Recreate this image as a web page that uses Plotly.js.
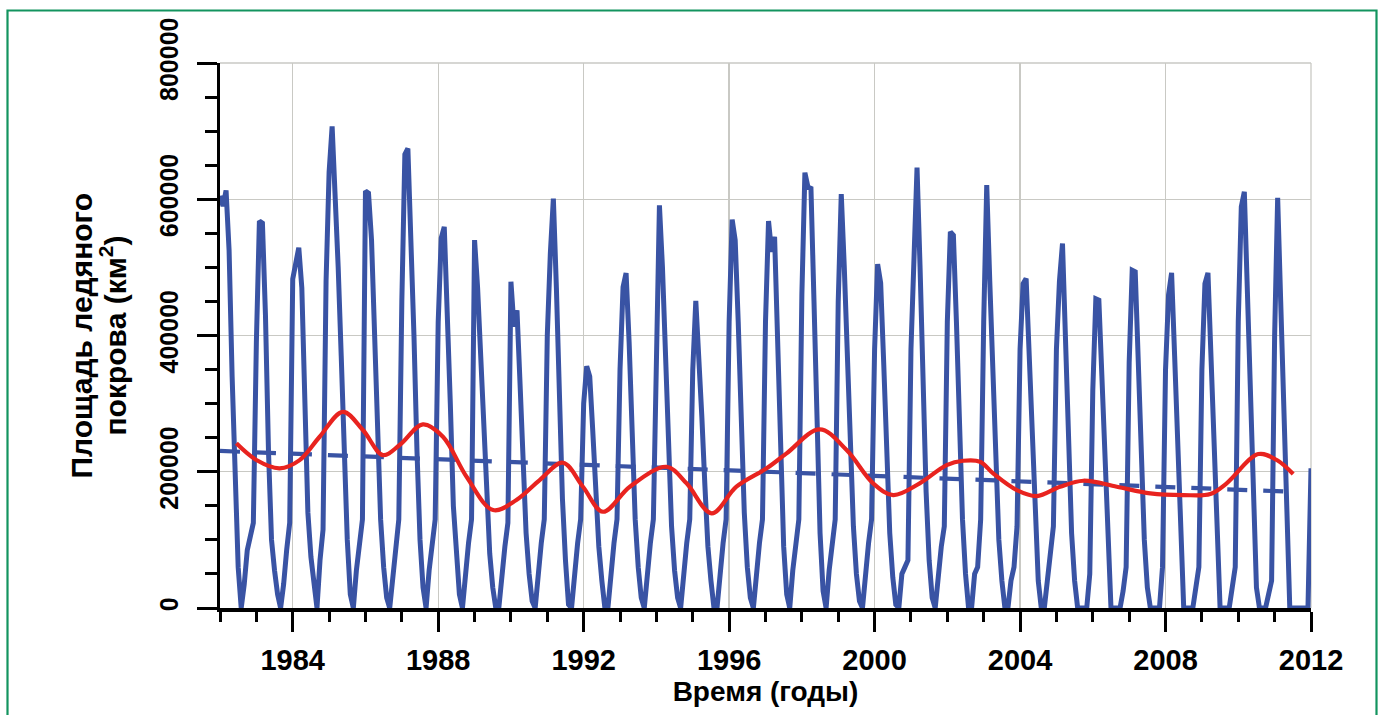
<!DOCTYPE html>
<html>
<head>
<meta charset="utf-8">
<script src="https://cdn.plot.ly/plotly-3.0.1.min.js"></script>
<style>
  html, body { margin: 0; padding: 0; background: #ffffff; }
  #chart { width: 1383px; height: 715px; }
</style>
</head>
<body>
<div id="chart"></div>
<script>
// Monthly ice-cover area, km², one row per year (Jan..Dec), starting January 1982
const firstYear = 1982;
const area1982_1989 = [
  605000, 590000, 613000, 525000, 340000, 170000, 60000, 0, 35000, 85000, 105000, 125000,
  390000, 568000, 565000, 430000, 230000, 100000, 55000, 20000, 0, 35000, 85000, 125000,
  483000, 505000, 529000, 470000, 320000, 140000, 75000, 30000, 0, 70000, 115000, 480000,
  640000, 707000, 610000, 500000, 370000, 220000, 100000, 20000, 0, 55000, 95000, 130000,
  612000, 609000, 540000, 400000, 260000, 130000, 60000, 15000, 0, 50000, 90000, 130000,
  450000, 666000, 674500, 560000, 400000, 230000, 100000, 30000, 0, 55000, 95000, 130000,
  420000, 543000, 559500, 450000, 300000, 150000, 70000, 20000, 0, 55000, 95000, 130000,
  540000, 470000, 380000, 280000, 170000, 80000, 30000, 0, 0, 55000, 90000, 125000
];
const area1990_1999 = [
  479000, 413000, 437000, 330000, 220000, 110000, 50000, 10000, 0, 55000, 95000, 130000,
  400000, 520000, 601000, 470000, 310000, 160000, 70000, 5000, 0, 55000, 95000, 130000,
  300000, 355000, 340000, 260000, 170000, 90000, 40000, 0, 0, 55000, 95000, 130000,
  350000, 471000, 491600, 390000, 260000, 130000, 60000, 15000, 0, 55000, 95000, 130000,
  420000, 591000, 500000, 380000, 250000, 120000, 55000, 15000, 0, 55000, 95000, 130000,
  350000, 451000, 380000, 280000, 180000, 90000, 40000, 0, 0, 55000, 95000, 130000,
  420000, 570000, 540000, 420000, 280000, 140000, 60000, 15000, 0, 55000, 95000, 130000,
  420000, 568000, 523000, 545000, 380000, 220000, 90000, 20000, 0, 55000, 95000, 130000,
  460000, 639000, 618000, 616000, 450000, 260000, 110000, 25000, 0, 55000, 95000, 130000,
  450000, 607500, 500000, 370000, 240000, 120000, 50000, 10000, 0, 55000, 95000, 130000
];
const area2000_2012 = [
  380000, 504800, 477000, 360000, 230000, 110000, 45000, 5000, 0, 50000, 60000, 70000,
  380000, 520000, 646600, 500000, 330000, 170000, 70000, 15000, 0, 50000, 90000, 120000,
  420000, 552000, 547000, 420000, 270000, 130000, 50000, 0, 0, 50000, 60000, 130000,
  420000, 620700, 480000, 350000, 220000, 100000, 40000, 0, 0, 40000, 60000, 120000,
  380000, 476000, 483700, 370000, 240000, 110000, 40000, 0, 0, 40000, 80000, 120000,
  380000, 480000, 535000, 400000, 250000, 110000, 40000, 0, 0, 0, 0, 50000,
  320000, 454000, 452000, 340000, 210000, 90000, 0, 0, 0, 0, 25000, 60000,
  360000, 495800, 493500, 370000, 230000, 100000, 30000, 0, 0, 0, 0, 60000,
  350000, 460000, 492000, 370000, 230000, 100000, 0, 0, 0, 0, 30000, 60000,
  350000, 476000, 492000, 370000, 230000, 100000, 0, 0, 0, 0, 30000, 60000,
  420000, 589000, 611000, 460000, 290000, 130000, 30000, 0, 0, 0, 20000, 40000,
  400000, 602000, 450000, 300000, 150000, 0, 0, 0, 0, 0, 0, 0,
  205000
];

// Smoothed curve (red) and linear trend (dashed blue)
const smoothYear = [1982.45, 1983.0, 1983.64, 1984.19, 1984.74, 1985.38, 1985.93, 1986.48, 1986.94,
  1987.58, 1988.13, 1988.78, 1989.51, 1990.15, 1990.79, 1991.43, 1991.98, 1992.53, 1993.27,
  1994.28, 1994.83, 1995.52, 1996.2, 1997.03, 1997.58, 1998.49, 1999.23, 1999.96, 2000.51,
  2001.24, 2001.98, 2002.44, 2002.9, 2003.26, 2003.91, 2004.46, 2005.1, 2005.74, 2006.66,
  2007.58, 2008.49, 2009.23, 2009.68, 2010.55, 2011.06, 2011.51];
const smoothArea = [241700, 217200, 205000, 217000, 251400, 288000, 261200, 224500, 239200,
  269500, 251400, 192700, 143800, 158500, 187800, 213200, 178000, 141300, 178000,
  207300, 183000, 139000, 178000, 205000, 227000, 262200, 231800, 183000, 165800,
  183000, 209800, 216100, 214700, 197600, 173100, 164300, 178000, 186800, 178000,
  168300, 165800, 167300, 183000, 226000, 217200, 196600];
const trendYear = [1982.0, 2011.55];
const trendArea = [230500, 170500];

// Axis ticks and titles
const xTickYears = [1984, 1988, 1992, 1996, 2000, 2004, 2008, 2012];
const yTickValues = [0, 200000, 400000, 600000, 800000];
const yTickLabels = ['0', '200000', '400000', '600000', '800000'];
const xTitle = 'Время (годы)';
const yTitleLines = ['Площадь ледяного', 'покрова (км<sup>2</sup>)'];

const area = area1982_1989.concat(area1990_1999, area2000_2012);
const monthTime = area.map((_, i) => firstYear + i / 12);

const blue = '#3953a4';
const fontFamily = 'Liberation Sans, Arial, Helvetica, sans-serif';

const traces = [
  {
    x: monthTime, y: area, type: 'scatter', mode: 'lines',
    line: {color: blue, width: 5}, hoverinfo: 'x+y'
  },
  {
    x: trendYear, y: trendArea, type: 'scatter', mode: 'lines',
    line: {color: blue, width: 4.2, dash: '20px,16px'}
  },
  {
    x: smoothYear, y: smoothArea, type: 'scatter', mode: 'lines',
    line: {color: '#e8231f', width: 4.2, shape: 'spline', smoothing: 1}
  }
];

// plot area spans x 220..1311 px and y 63..608 px
const L = 220, R = 1311, T = 63, B = 608;
const px = v => (v - L) / (R - L);
const py = v => (B - v) / (B - T);

const titleFont = {size: 30, weight: 'bold', family: fontFamily, color: '#000000'};

const layout = {
  width: 1383, height: 715,
  margin: {l: L, r: 1383 - R, t: T, b: 715 - B},
  paper_bgcolor: '#ffffff', plot_bgcolor: '#ffffff',
  showlegend: false,
  font: {family: fontFamily, color: '#000000'},
  xaxis: {
    range: [1982, 2012],
    tickmode: 'array', tickvals: xTickYears, ticktext: xTickYears.map(String),
    ticks: 'outside', ticklen: 20, tickwidth: 3, tickcolor: '#000000',
    ticklabelstandoff: 4,
    minor: {tickmode: 'linear', tick0: 1982, dtick: 1, ticks: 'outside', ticklen: 10, tickwidth: 3, tickcolor: '#000000', showgrid: false},
    showline: true, linecolor: '#000000', linewidth: 3.5,
    showgrid: true, gridcolor: '#c9c9c4', gridwidth: 1.3,
    zeroline: false,
    tickfont: {size: 29, weight: 'bold', family: fontFamily},
    title: {text: xTitle, font: {size: 28, weight: 'bold', family: fontFamily}, standoff: 5}
  },
  yaxis: {
    range: [0, 800000],
    tickmode: 'array', tickvals: yTickValues, ticktext: yTickLabels,
    tickangle: -90,
    ticks: 'outside', ticklen: 20, tickwidth: 3, tickcolor: '#000000',
    ticklabelstandoff: 9,
    minor: {tickmode: 'linear', tick0: 0, dtick: 50000, ticks: 'outside', ticklen: 12, tickwidth: 3, tickcolor: '#000000', showgrid: false},
    showline: true, linecolor: '#000000', linewidth: 3.5,
    showgrid: true, gridcolor: '#c9c9c4', gridwidth: 1.3,
    zeroline: false,
    tickfont: {size: 25, weight: 'bold', family: fontFamily}
  },
  // two-line y-axis title, lines set a little tighter than the default line height
  annotations: [
    {text: yTitleLines[0], xref: 'paper', yref: 'paper', x: px(81), y: 0.5,
     xanchor: 'center', yanchor: 'middle', textangle: -90, showarrow: false, font: titleFont},
    {text: yTitleLines[1], xref: 'paper', yref: 'paper', x: px(113), y: 0.5,
     xanchor: 'center', yanchor: 'middle', textangle: -90, showarrow: false, font: titleFont}
  ],
  shapes: [
    // light frame along the top and right of the plot area
    {type: 'line', xref: 'paper', yref: 'paper', x0: 0, x1: 1, y0: 1, y1: 1, line: {color: '#c9c9c4', width: 1.3}, layer: 'below'},
    {type: 'line', xref: 'paper', yref: 'paper', x0: 1, x1: 1, y0: 0, y1: 1, line: {color: '#c9c9c4', width: 1.3}, layer: 'below'},
    // green outer border
    {type: 'rect', xref: 'paper', yref: 'paper',
     x0: px(7.5), x1: px(1376.5), y0: py(725), y1: py(10.5),
     line: {color: '#13945f', width: 2.2}, fillcolor: 'rgba(0,0,0,0)', layer: 'above'}
  ]
};

Plotly.newPlot('chart', traces, layout, {displayModeBar: false, staticPlot: true});
</script>
</body>
</html>
